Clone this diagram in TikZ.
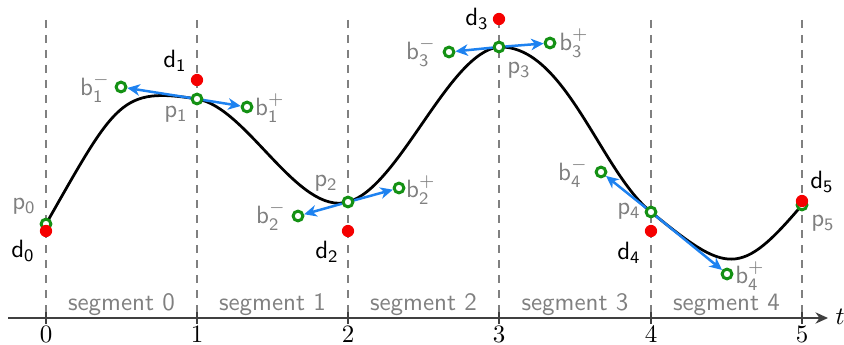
\documentclass[tikz,border=0pt]{standalone}
\usetikzlibrary{arrows.meta}
\definecolor{cgreen}{RGB}{20,145,20}
\definecolor{cblue}{RGB}{30,130,240}
\definecolor{cred}{RGB}{245,0,0}
\definecolor{cgray}{RGB}{128,128,128}
\newcommand{\Lsub}[2]{\textsf{#1}$_{\mathsf{#2}}$}
\newcommand{\Lsubsup}[3]{\textsf{#1}$_{\mathsf{#2}}^{#3}$}
\begin{document}
\begin{tikzpicture}[x=0.4pt,y=-0.4pt,
 guide/.style={draw=cgray, line width=1.05pt, dash pattern=on 3.2pt off 2.8pt},
 axisline/.style={draw=black!75, line width=0.8pt},
 curveline/.style={line width=1.1pt},
 ctrl/.style={circle, draw=cgreen, fill=white, line width=1.2pt, minimum size=3.9pt, inner sep=0pt},
 datum/.style={circle, fill=cred, minimum size=4.9pt, inner sep=0pt},
 tang/.style={draw=cblue, line width=1pt, -{Stealth[length=5pt,width=4.6pt,inset=1.5pt]}},
 glab/.style={text=cgray, font=\sffamily, inner sep=0pt},
 dlab/.style={text=black, font=\sffamily, inner sep=0pt},
 seglab/.style={text=cgray, font=\sffamily, inner sep=0pt},
 tickmark/.style={draw=black!75, line width=0.6pt},
]
\useasboundingbox (0,0) rectangle (844,345);

% guide lines, ticks, tick labels
\foreach \i/\x in {0/46,1/197,2/348,3/499,4/651,5/802}{
  \coordinate (gt\i) at (\x,20);
  \coordinate (gb\i) at (\x,318);
  \draw[guide] (gt\i) -- (gb\i);
  \coordinate (tt\i) at (\x,312);
  \coordinate (tb\i) at (\x,324);
  \draw[tickmark] (tt\i) -- (tb\i);
  \node[inner sep=0pt] (tl\i) at (\x,334) {$\i$};
}
% axis
\coordinate (ax0) at (8,318);
\coordinate (ax1) at (828,318);
\draw[axisline,-{Stealth[length=5pt,width=4.5pt,inset=1.6pt]}] (ax0) -- (ax1);
\node[inner sep=0pt] (tlab) at (840,317) {$t$};

% segment labels
\foreach \i/\x in {0/121.5,1/272.5,2/423.5,3/575,4/726.5}{
  \node[seglab] (seg\i) at (\x,305) {segment \i};
}

% curve points and control points
\coordinate (P0) at (46,224);
\coordinate (P1) at (197,99);
\coordinate (P2) at (348,202);
\coordinate (P3) at (499,47);
\coordinate (P4) at (651,212);
\coordinate (P5) at (802,205);
\coordinate (B1m) at (121,87);
\coordinate (B1p) at (247,107);
\coordinate (B2m) at (298,216);
\coordinate (B2p) at (399,188);
\coordinate (B3m) at (449,52);
\coordinate (B3p) at (550,43);
\coordinate (B4m) at (601,172);
\coordinate (B4p) at (727,274);
% curve control handles
\coordinate (K0a) at (116,101);
\coordinate (K0b) at (121,87);
\coordinate (K3a) at (565,45);
\coordinate (K3b) at (601,172);
\coordinate (K4a) at (727,274);
\coordinate (K4b) at (740,278);

\draw[curveline] (P0) .. controls (K0a) and (K0b) .. (P1)
  .. controls (B1p) and (B2m) .. (P2)
  .. controls (B2p) and (B3m) .. (P3)
  .. controls (K3a) and (K3b) .. (P4)
  .. controls (K4a) and (K4b) .. (P5);

% control-point circles
\foreach \n in {P0,P1,P2,P3,P4,P5,B1m,B1p,B2m,B2p,B3m,B3p,B4m,B4p}{
  \node[ctrl] (c\n) at (\n) {};
}
% tangent arrows
\foreach \i in {1,2,3,4}{
  \draw[tang] (cP\i) -- (cB\i m);
  \draw[tang] (cP\i) -- (cB\i p);
}
% data points
\node[datum] (d0) at (46,231) {};
\node[datum] (d1) at (197,80) {};
\node[datum] (d2) at (348,231) {};
\node[datum] (d3) at (499,19) {};
\node[datum] (d4) at (651,231) {};
\node[datum] (d5) at (802,201) {};

% labels
\node[glab] (lp0) at (24,206) {\Lsub{p}{0}};
\node[glab] (lp1) at (176,114) {\Lsub{p}{1}};
\node[glab] (lp2) at (326,183) {\Lsub{p}{2}};
\node[glab] (lp3) at (519,70) {\Lsub{p}{3}};
\node[glab] (lp4) at (629,211) {\Lsub{p}{4}};
\node[glab] (lp5) at (823,223) {\Lsub{p}{5}};
\node[dlab] (ld0) at (23,251) {\Lsub{d}{0}};
\node[dlab] (ld1) at (175,61) {\Lsub{d}{1}};
\node[dlab] (ld2) at (327,252) {\Lsub{d}{2}};
\node[dlab] (ld3) at (477,19) {\Lsub{d}{3}};
\node[dlab] (ld4) at (629,253) {\Lsub{d}{4}};
\node[dlab] (ld5) at (822,182) {\Lsub{d}{5}};
\node[glab] (lb1m) at (95,88) {\Lsubsup{b}{1}{-}};
\node[glab] (lb1p) at (270,108) {\Lsubsup{b}{1}{+}};
\node[glab] (lb2m) at (271,216) {\Lsubsup{b}{2}{-}};
\node[glab] (lb2p) at (421,190) {\Lsubsup{b}{2}{+}};
\node[glab] (lb3m) at (421,52) {\Lsubsup{b}{3}{-}};
\node[glab] (lb3p) at (574,43) {\Lsubsup{b}{3}{+}};
\node[glab] (lb4m) at (573,173) {\Lsubsup{b}{4}{-}};
\node[glab] (lb4p) at (750,276) {\Lsubsup{b}{4}{+}};
\end{tikzpicture}
\end{document}
